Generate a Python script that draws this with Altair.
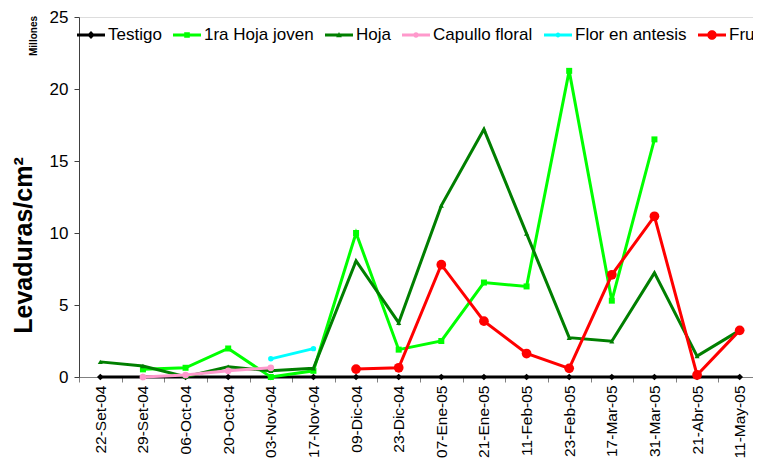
import altair as alt
import pandas as pd

# ---- data (millions of yeasts / cm2) ----
fechas = ["22-Set-04", "29-Set-04", "06-Oct-04", "20-Oct-04", "03-Nov-04", "17-Nov-04",
          "09-Dic-04", "23-Dic-04", "07-Ene-05", "21-Ene-05", "11-Feb-05", "23-Feb-05",
          "17-Mar-05", "31-Mar-05", "21-Abr-05", "11-May-05"]

series = ["Testigo", "1ra Hoja joven", "Hoja", "Capullo floral", "Flor en antesis", "Fruto"]

testigo = [0, 0, 0, 0, 0, 0, 0, 0, 0, 0, 0, 0, 0, 0, 0, 0]
hoja_joven = [None, 0.53, 0.64, 1.98, 0.0, 0.43, 10.0, 1.9, 2.5, 6.56, 6.29, 21.26, 5.3, 16.5, None, None]
hoja = [1.05, 0.76, 0.02, 0.71, 0.43, 0.6, 8.06, 3.77, 11.9, 17.2, 9.96, 2.73, 2.48, 7.23, 1.45, 3.24]
capullo = [None, 0.0, 0.14, 0.43, 0.64, None, None, None, None, None, None, None, None, None, None, None]
flor = [None, None, None, None, 1.26, 1.97, None, None, None, None, None, None, None, None, None, None]
fruto = [None, None, None, None, None, None, 0.55, 0.64, 7.8, 3.88, 1.63, 0.6, 7.1, 11.16, 0.14, 3.24]

valores = [testigo, hoja_joven, hoja, capullo, flor, fruto]

y_ticks = [0, 5, 10, 15, 20, 25]

# ---- styles ----
colores = ["#000000", "#00FF00", "#007F00", "#FF99CC", "#00FFFF", "#FF0000"]
formas = ["diamond", "square", "triangle-up", "circle", "circle", "circle"]
tamanos = [45, 36, 26, 45, 30, 95]

LINE = "M-1,-0.1L1,-0.1L1,0.1L-1,0.1Z"


def circ(r):
    return f"M-{r},0A{r},{r} 0 1,1 {r},0A{r},{r} 0 1,1 -{r},0Z"


leyenda_paths = [
    LINE + "M0,-0.28L0.28,0L0,0.28L-0.28,0Z",
    LINE + "M-0.2,-0.2L0.2,-0.2L0.2,0.2L-0.2,0.2Z",
    LINE + "M0,-0.22L0.2,0.16L-0.2,0.16Z",
    LINE + circ(0.2),
    LINE + circ(0.17),
    LINE + circ(0.34),
]

FONT = "Liberation Sans"

rows = []
for s, vals in zip(series, valores):
    for f, v in zip(fechas, vals):
        if v is not None:
            rows.append({"serie": s, "fecha": f, "valor": v})
df = pd.DataFrame(rows)

x_enc = alt.X(
    "fecha:N",
    sort=fechas,
    scale=alt.Scale(type="band", paddingInner=0, paddingOuter=0, range=[0, 682]),
    axis=alt.Axis(
        title=None,
        labelAngle=270,
        labelAlign="right",
        labelBaseline="middle",
        labelFontSize=15.5,
        labelPadding=3,
        tickBand="extent",
        tickSize=5,
        domainColor="#808080",
        tickColor="#808080",
        labelColor="#000000",
        labelFont=FONT,
    ),
)
y_enc = alt.Y(
    "valor:Q",
    scale=alt.Scale(domain=[0, 25], nice=False, zero=True),
    axis=alt.Axis(
        values=y_ticks,
        title="Levaduras/cm²",
        titleFontSize=25,
        titleFontWeight="bold",
        titleFont=FONT,
        titleColor="#000000",
        titleX=-56,
        titleY=228,
        titleAngle=270,
        titleBaseline="middle",
        titleAlign="center",
        labelFontSize=17,
        labelFont=FONT,
        labelColor="#000000",
        labelPadding=6,
        tickSize=5,
        domainColor="#404040",
        tickColor="#404040",
        grid=False,
    ),
)

base = alt.Chart(df)
layers = []
for s, c, sh, sz in zip(series, colores, formas, tamanos):
    sub = base.transform_filter(alt.datum.serie == s)
    layers.append(sub.mark_line(color=c, strokeWidth=3).encode(x=x_enc, y=y_enc))
    layers.append(
        sub.mark_point(shape=sh, size=sz, filled=True, color=c, opacity=1).encode(x=x_enc, y=y_enc)
    )

leg_props = dict(
    title=None,
    orient="none",
    legendX=-2,
    legendY=4,
    direction="horizontal",
    labelFontSize=17,
    labelFont=FONT,
    labelColor="#000000",
    labelOffset=3,
    columnPadding=11,
    symbolSize=784,
    symbolStrokeWidth=0,
    symbolOpacity=1,
    padding=0,
    labelLimit=300,
)

# legend-only layer (no visible marks)
leyenda = base.transform_filter("datum.valor < -1000").mark_point(filled=True).encode(
    x=x_enc,
    y=y_enc,
    color=alt.Color("serie:N", scale=alt.Scale(domain=series, range=colores),
                    legend=alt.Legend(**leg_props)),
    shape=alt.Shape("serie:N", scale=alt.Scale(domain=series, range=leyenda_paths),
                    legend=alt.Legend(**leg_props)),
)
layers.append(leyenda)

millones = alt.Chart(pd.DataFrame({"t": ["Millones"]})).mark_text(
    angle=270, fontSize=10, fontWeight="bold", font=FONT, align="center",
    baseline="middle", color="#000000"
).encode(text="t:N", x=alt.value(-45), y=alt.value(19))
layers.append(millones)

chart = (
    alt.layer(*layers)
    .properties(
        width=674,
        height=360,
        autosize=alt.AutoSizeParams(type="none"),
        padding={"left": 71, "top": 9, "right": 0, "bottom": 85},
    )
    .configure_view(stroke=None)
    .configure(background="#FFFFFF")
)

chart.save("out.html", embed_options={"renderer": "svg", "actions": False})
